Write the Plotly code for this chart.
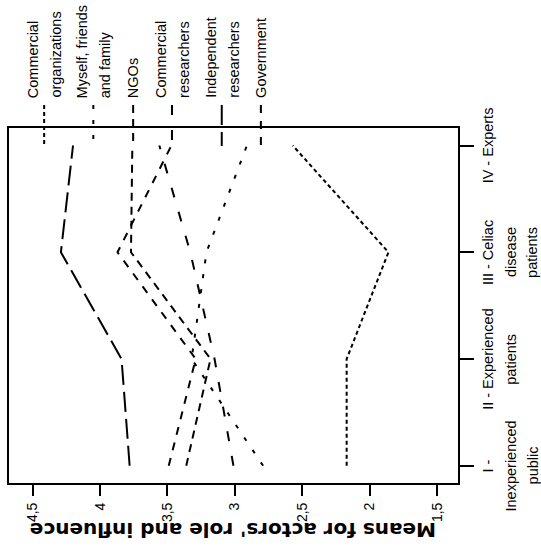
import plotly.graph_objects as go

# ---------------- data ----------------
categories = [1, 2, 3, 4]
category_labels = [
    "I -<br>Inexperienced<br>public",
    "II - Experienced<br>patients",
    "III - Celiac<br>disease<br>patients",
    "IV - Experts",
]
series_names = [
    "Commercial<br>organizations",
    "Myself, friends<br>and family",
    "NGOs",
    "Commercial<br>researchers",
    "Independent<br>researchers",
    "Government",
]
commercial_organizations = [2.17, 2.17, 1.86, 2.57]
myself_friends_family = [2.79, 3.32, 3.21, 2.91]
ngos = [3.36, 3.18, 3.77, 3.76]
commercial_researchers = [3.01, 3.15, 3.33, 3.56]
independent_researchers = [3.78, 3.84, 4.29, 4.20]
government = [3.49, 3.29, 3.87, 3.47]
value_ticks = [4.5, 4, 3.5, 3, 2.5, 2, 1.5]
value_tick_labels = ["4,5", "4", "3,5", "3", "2,5", "2", "1,5"]
axis_title = "Means for actors' role and influence"

series_values = [
    commercial_organizations,
    myself_friends_family,
    ngos,
    commercial_researchers,
    independent_researchers,
    government,
]

# ---------------- styles / geometry ----------------
dashes = ["4px,3px", "4px,11px", "8px,6px", "10px,15px", "20px,7px", "8px,8px"]
W, H = 541, 547
L, R, T, B = 7, 458, 128, 483


def px_x(px):
    return (px - L) / (R - L)


def px_y(py):
    return (B - py) / (B - T)


FONT = "Liberation Sans, Arial, Helvetica, sans-serif"

fig = go.Figure()
for name, vals, d in zip(series_names, series_values, dashes):
    fig.add_trace(go.Scatter(
        x=vals, y=categories, mode="lines", name=name.replace("<br>", " "),
        line=dict(color="black", width=2, dash=d), showlegend=False,
        hoverinfo="skip",
    ))

shapes = []
annotations = []

# legend samples + texts (vertical, above the box)
legend_x = [42.3, 91.7, 131.7, 170.7, 220.7, 260]
for name, sx, d in zip(series_names, legend_x, dashes):
    shapes.append(dict(type="line", xref="paper", yref="paper",
                       x0=px_x(sx), x1=px_x(sx), y0=px_y(105), y1=px_y(146),
                       line=dict(color="black", width=2, dash=d)))
    lines = name.split("<br>")
    if len(lines) == 1:
        cols = [sx]
    else:
        cols = [sx - 11.5, sx + 11.5]
    for ln, cx in zip(lines, cols):
        annotations.append(dict(text=ln, x=px_x(cx), y=px_y(100), xref="paper", yref="paper",
                                xanchor="center", yanchor="bottom", textangle=-90,
                                showarrow=False, font=dict(family=FONT, size=14.5, color="black")))

# category labels on the right
col_x = [488, 511, 533]
for c, lab in zip(categories, category_labels):
    for ln, cx in zip(lab.split("<br>"), col_x):
        annotations.append(dict(text=ln, x=px_x(cx), y=c, xref="paper", yref="y",
                                xanchor="center", yanchor="middle", textangle=-90,
                                showarrow=False, font=dict(family=FONT, size=14.5, color="black")))

# axis title (upside down)
annotations.append(dict(text="<b>" + axis_title + "</b>", x=px_x(232.5), y=px_y(530),
                        xref="paper", yref="paper", xanchor="center", yanchor="middle",
                        textangle=180, showarrow=False,
                        font=dict(family="DejaVu Sans, sans-serif", size=20, color="black")))

fig.update_layout(
    width=W, height=H,
    margin=dict(l=L, r=W - R, t=T, b=H - B, pad=0),
    paper_bgcolor="white", plot_bgcolor="white",
    shapes=shapes, annotations=annotations,
    xaxis=dict(range=[4.675, 1.344], tickvals=value_ticks, ticktext=value_tick_labels,
               tickangle=-90, ticks="outside", ticklen=11, tickwidth=2, tickcolor="black",
               ticklabelstandoff=1,
               showline=True, linewidth=2, linecolor="black", mirror=True,
               showgrid=False, zeroline=False,
               tickfont=dict(family=FONT, size=14, color="black")),
    yaxis=dict(range=[0.838, 4.164], tickvals=categories, side="right",
               ticks="outside", ticklen=14, tickwidth=2, tickcolor="black",
               showticklabels=False,
               showline=True, linewidth=2, linecolor="black", mirror=True,
               showgrid=False, zeroline=False),
)

fig.write_html("out.html")
